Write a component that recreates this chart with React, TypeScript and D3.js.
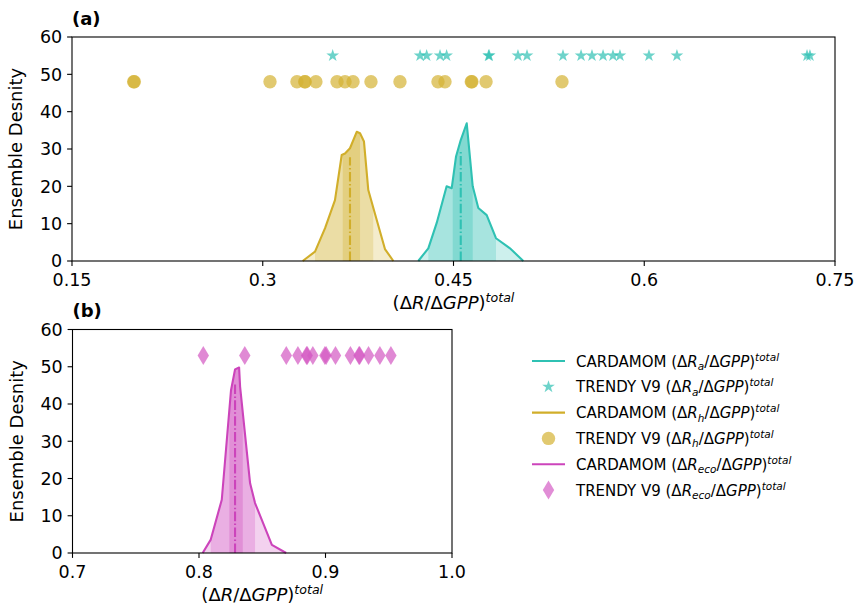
import React from 'react';
import * as d3 from 'd3';

// ---------- axis ticks ----------
const ticksA = [0.15, 0.3, 0.45, 0.6, 0.75];
const tickLabelsA = ['0.15', '0.3', '0.45', '0.6', '0.75'];
const ticksB = [0.7, 0.8, 0.9, 1.0];
const tickLabelsB = ['0.7', '0.8', '0.9', '1.0'];
const yTicks = [0, 10, 20, 30, 40, 50, 60];

// ---------- TRENDY V9 model values ----------
const trendyRa = [0.355, 0.4237, 0.4289, 0.4394, 0.4446, 0.4776, 0.4781, 0.5007, 0.5078, 0.5361,
  0.5503, 0.5589, 0.5676, 0.5754, 0.5809, 0.6037, 0.6257, 0.728, 0.7303];
const trendyRaLevel = 55;
const trendyRh = [0.1985, 0.199, 0.3057, 0.3269, 0.333, 0.3334, 0.3418, 0.3584, 0.3647, 0.371,
  0.3851, 0.4079, 0.4378, 0.4433, 0.464, 0.4645, 0.4756, 0.5353];
const trendyRhLevel = 48;
const trendyReco = [0.8034, 0.8362, 0.869, 0.8782, 0.885, 0.8856, 0.89, 0.8995, 0.9005, 0.9079,
  0.9197, 0.9265, 0.927, 0.934, 0.943, 0.9517];
const trendyRecoLevel = 53;

// ---------- CARDAMOM ensemble densities ----------
const cardRaX = [0.4223, 0.4302, 0.4368, 0.4446, 0.4486, 0.452, 0.4557, 0.4604, 0.4651, 0.4695, 0.4761, 0.4834, 0.4944, 0.5049];
const cardRaY = [0, 3.4, 10.2, 20.0, 19.5, 28.0, 32.4, 36.9, 20.0, 14.2, 12.3, 6.1, 3.4, 0];
const cardRaQ = [0.4302, 0.4494, 0.4557, 0.4651, 0.4834];

const cardRhX = [0.3314, 0.3411, 0.349, 0.3568, 0.3621, 0.3647, 0.3686, 0.3739, 0.3765, 0.3796, 0.383, 0.3883, 0.3961, 0.4027];
const cardRhY = [0, 2.5, 8.8, 16.3, 28.4, 28.8, 30.2, 34.6, 34.2, 32.0, 19.0, 12.6, 3.2, 0];
const cardRhQ = [0.3411, 0.3629, 0.3686, 0.3765, 0.3869];

const cardRecoX = [0.8029, 0.8093, 0.818, 0.8253, 0.8285, 0.8317, 0.8325, 0.8404, 0.8443, 0.8576, 0.8689];
const cardRecoY = [0, 3.6, 14.3, 43.7, 49.3, 49.8, 44.6, 18.7, 13.4, 2.2, 0];
const cardRecoQ = [0.8093, 0.824, 0.8285, 0.8346, 0.8443];

// ---------- colours ----------
const cRa = '#2fc1b3';
const cRh = '#d1ae2a';
const cReco = '#cc44bb';
const mRa = '#2fc1b3';
const mRh = '#d4b233';
const mReco = '#d45cc4';

const FONT = 'DejaVu Sans, Verdana, sans-serif';

const starPath = d3.symbol(d3.symbolStar, 50)() as string;
const diamondPath = 'M0,-9.5L5.7,0L0,9.5L-5.7,0Z';

type Dens = { xs: number[]; ys: number[]; q: number[]; color: string; id: string };
type Scat = { xs: number[]; level: number; kind: 'star' | 'circle' | 'diamond'; color: string };

function Panel(props: {
  left: number; right: number; top: number; bottom: number;
  domain: [number, number]; ticks: number[]; tickLabels: string[];
  dens: Dens[]; scat: Scat[]; label: string;
}) {
  const { left, right, top, bottom, domain, ticks, tickLabels, dens, scat, label } = props;
  const x = d3.scaleLinear().domain(domain).range([left, right]);
  const y = d3.scaleLinear().domain([0, 60]).range([bottom, top]);
  const tl = 4.9;
  return (
    <g>
      {dens.map((d) => {
        const pts = d.xs.map((v, i) => [v, d.ys[i]] as [number, number]);
        const area = d3.area<[number, number]>().x((p) => x(p[0])).y0(y(0)).y1((p) => y(p[1]))(pts) as string;
        const line = d3.line<[number, number]>().x((p) => x(p[0])).y((p) => y(p[1]))(pts) as string;
        const interp = d3.scaleLinear().domain(d.xs).range(d.ys);
        const med = d.q[2];
        return (
          <g key={d.id}>
            <clipPath id={'clip-' + d.id}><path d={area} /></clipPath>
            <g clipPath={`url(#clip-${d.id})`}>
              <path d={area} fill={d.color} fillOpacity={0.24} />
              <rect x={x(d.q[0])} y={top} width={x(d.q[4]) - x(d.q[0])} height={bottom - top} fill={d.color} fillOpacity={0.24} />
              <rect x={x(d.q[1])} y={top} width={x(d.q[3]) - x(d.q[1])} height={bottom - top} fill={d.color} fillOpacity={0.3} />
            </g>
            <path d={line} fill="none" stroke={d.color} strokeWidth={2.1} strokeLinejoin="round" />
            <line x1={x(med)} x2={x(med)} y1={y(0)} y2={y(interp(med) * 0.92)} stroke={d.color}
              strokeWidth={2.1} strokeDasharray="9.6 2.4 1.5 2.4" />
          </g>
        );
      })}
      {scat.map((s, si) => (
        <g key={si}>
          {s.xs.map((v, i) => {
            const cx = x(v), cy = y(s.level);
            if (s.kind === 'circle') return <circle key={i} cx={cx} cy={cy} r={6.7} fill={s.color} fillOpacity={0.7} />;
            const d = s.kind === 'star' ? starPath : diamondPath;
            return <path key={i} d={d} transform={`translate(${cx},${cy})`} fill={s.color} fillOpacity={s.kind === 'star' ? 0.7 : 0.72} />;
          })}
        </g>
      ))}
      {/* frame */}
      <rect x={left} y={top} width={right - left} height={bottom - top} fill="none" stroke="#000" strokeWidth={1.1} />
      {/* x ticks */}
      {ticks.map((t, i) => (
        <g key={'xt' + i}>
          <line x1={x(t)} x2={x(t)} y1={bottom} y2={bottom + tl} stroke="#000" strokeWidth={1.1} />
          <text x={x(t)} y={bottom + 24.5} textAnchor="middle" fontSize={17.5} fontFamily={FONT} fill="#000">{tickLabels[i]}</text>
        </g>
      ))}
      {yTicks.map((t, i) => (
        <g key={'yt' + i}>
          <line x1={left - tl} x2={left} y1={y(t)} y2={y(t)} stroke="#000" strokeWidth={1.1} />
          <text x={left - 9.8} y={y(t) + 6.3} textAnchor="end" fontSize={17.5} fontFamily={FONT} fill="#000">{t}</text>
        </g>
      ))}
      {/* axis labels */}
      <text x={(left + right) / 2} y={bottom + 48} textAnchor="middle" fontSize={18} fontFamily={FONT} fill="#000">
        (Δ<tspan fontStyle="italic">R</tspan>/Δ<tspan fontStyle="italic">GPP</tspan>)<tspan fontStyle="italic" fontSize={12.6} dy={-7}>total</tspan>
      </text>
      <text transform={`translate(${left - 50},${(top + bottom) / 2}) rotate(-90)`} textAnchor="middle" fontSize={18} fontFamily={FONT} fill="#000">
        Ensemble Desnity
      </text>
      <text x={left} y={top - 12.5} fontSize={18} fontWeight="bold" fontFamily={FONT} fill="#000">{label}</text>
    </g>
  );
}

function LegendLabel(props: { x: number; y: number; prefix: string; sub: string }) {
  const { x, y, prefix, sub } = props;
  return (
    <text x={x} y={y} fontSize={15} fontFamily={FONT} fill="#000">
      {prefix} (Δ<tspan fontStyle="italic">R</tspan>
      <tspan fontStyle="italic" fontSize={10.5} dy={3.5}>{sub}</tspan>
      <tspan dy={-3.5}>/Δ</tspan><tspan fontStyle="italic">GPP</tspan>)
      <tspan fontStyle="italic" fontSize={10.5} dy={-6}>total</tspan>
    </text>
  );
}

const legendItems = [
  { kind: 'line', color: cRa, prefix: 'CARDAMOM', sub: 'a' },
  { kind: 'star', color: mRa, prefix: 'TRENDY V9', sub: 'a' },
  { kind: 'line', color: cRh, prefix: 'CARDAMOM', sub: 'h' },
  { kind: 'circle', color: mRh, prefix: 'TRENDY V9', sub: 'h' },
  { kind: 'line', color: cReco, prefix: 'CARDAMOM', sub: 'eco' },
  { kind: 'diamond', color: mReco, prefix: 'TRENDY V9', sub: 'eco' },
];

export default function App() {
  const legendTop = 361;
  const legendStep = 25.8;
  return (
    <svg width={862} height={606} style={{ position: 'absolute', left: 0, top: 0, background: '#fff' }}>
      <rect x={0} y={0} width={862} height={606} fill="#fff" />
      <Panel left={72} right={835} top={37} bottom={261} domain={[0.15, 0.75]} ticks={ticksA} tickLabels={tickLabelsA}
        label="(a)"
        dens={[
          { xs: cardRhX, ys: cardRhY, q: cardRhQ, color: cRh, id: 'rh' },
          { xs: cardRaX, ys: cardRaY, q: cardRaQ, color: cRa, id: 'ra' },
        ]}
        scat={[
          { xs: trendyRa, level: trendyRaLevel, kind: 'star', color: mRa },
          { xs: trendyRh, level: trendyRhLevel, kind: 'circle', color: mRh },
        ]}
      />
      <Panel left={72.5} right={452} top={329.5} bottom={553} domain={[0.7, 1.0]} ticks={ticksB} tickLabels={tickLabelsB}
        label="(b)"
        dens={[{ xs: cardRecoX, ys: cardRecoY, q: cardRecoQ, color: cReco, id: 'reco' }]}
        scat={[{ xs: trendyReco, level: trendyRecoLevel, kind: 'diamond', color: mReco }]}
      />
      {legendItems.map((it, i) => {
        const cy = legendTop + i * legendStep;
        let mark;
        if (it.kind === 'line') mark = <line x1={532} x2={565} y1={cy} y2={cy} stroke={it.color} strokeWidth={2.1} />;
        else if (it.kind === 'circle') mark = <circle cx={548.5} cy={cy} r={6.7} fill={it.color} fillOpacity={0.7} />;
        else mark = <path d={it.kind === 'star' ? starPath : diamondPath} transform={`translate(548.5,${cy})`} fill={it.color} fillOpacity={0.7} />;
        return (
          <g key={i}>
            {mark}
            <LegendLabel x={576} y={cy + 5.5} prefix={it.prefix} sub={it.sub} />
          </g>
        );
      })}
    </svg>
  );
}
